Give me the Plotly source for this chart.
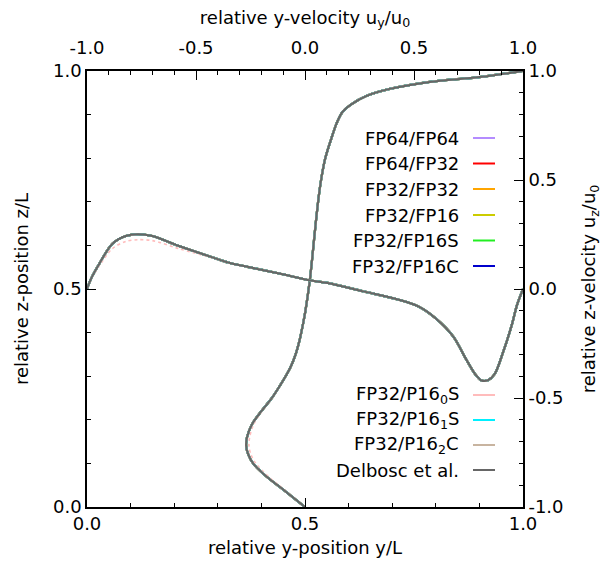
import plotly.graph_objects as go

# ---------------- data ----------------
# vertical centre-line profile: relative y-velocity u_y/u0 as a function of z/L
z_pos = [0.0, 0.02, 0.04, 0.07, 0.10, 0.12, 0.14, 0.16, 0.19, 0.22, 0.25, 0.28,
         0.30, 0.32, 0.35, 0.38, 0.42, 0.45, 0.52, 0.57, 0.65, 0.72, 0.76, 0.80,
         0.85, 0.88, 0.906, 0.924, 0.943, 0.959, 0.975, 0.986, 1.0]
u_y = [0.0, -0.05, -0.10, -0.177, -0.238, -0.26, -0.27, -0.266, -0.243, -0.20,
       -0.152, -0.113, -0.089, -0.067, -0.043, -0.026, -0.009, 0.002, 0.022,
       0.033, 0.049, 0.065, 0.077, 0.093, 0.124, 0.145, 0.172, 0.214, 0.283,
       0.389, 0.572, 0.80, 1.0]
u_y_p160s = [0.0, -0.048, -0.095, -0.168, -0.226, -0.248, -0.257, -0.254, -0.235,
             -0.196, -0.15, -0.112, -0.089, -0.067, -0.043, -0.026, -0.009, 0.002,
             0.022, 0.033, 0.049, 0.065, 0.077, 0.093, 0.124, 0.145, 0.172, 0.214,
             0.283, 0.389, 0.572, 0.80, 1.0]

# horizontal centre-line profile: relative z-velocity u_z/u0 as a function of y/L
y_pos = [0.0, 0.01, 0.028, 0.058, 0.089, 0.116, 0.15, 0.211, 0.288, 0.33, 0.365,
         0.441, 0.513, 0.552, 0.634, 0.713, 0.76, 0.80, 0.84, 0.87, 0.89, 0.905,
         0.92, 0.935, 0.954, 0.975, 0.986, 1.0]
u_z = [0.0, 0.05, 0.115, 0.207, 0.243, 0.251, 0.243, 0.197, 0.145, 0.118, 0.103,
       0.071, 0.039, 0.028, -0.011, -0.048, -0.08, -0.135, -0.218, -0.324, -0.39,
       -0.42, -0.418, -0.39, -0.292, -0.16, -0.075, 0.0]
u_z_p160s = [0.0, 0.045, 0.105, 0.185, 0.218, 0.226, 0.222, 0.185, 0.142, 0.116,
             0.102, 0.071, 0.039, 0.028, -0.011, -0.048, -0.08, -0.135, -0.218,
             -0.324, -0.39, -0.42, -0.418, -0.39, -0.292, -0.16, -0.075, 0.0]

series_names = ["FP64/FP64", "FP64/FP32", "FP32/FP32", "FP32/FP16", "FP32/FP16S",
                "FP32/FP16C", "FP32/P16<sub>0</sub>S", "FP32/P16<sub>1</sub>S",
                "FP32/P16<sub>2</sub>C", "Delbosc et al."]
series_colors = ["#b48cff", "#ff0000", "#ffa500", "#cccc00", "#22ee22",
                 "#0000cc", "#ffbcbc", "#00f0ff", "#c8b4a0", "#666666"]

pos_ticks = [0.0, 0.5, 1.0]
pos_ticktext = ["0.0", "0.5", "1.0"]
vel_ticks = [-1.0, -0.5, 0.0, 0.5, 1.0]
vel_ticktext = ["-1.0", "-0.5", "0.0", "0.5", "1.0"]

# ---------------- figure ----------------
FONT = "DejaVu Sans"
fig = go.Figure()

# axes: x (top) = u_y, y (left) = z/L ; x2 (bottom) = y/L, y2 (right) = u_z
for name, col in zip(series_names, series_colors):
    is_p0 = name.startswith("FP32/P16<sub>0")
    uy = u_y_p160s if is_p0 else u_y
    uz = u_z_p160s if is_p0 else u_z
    dash = "dot" if is_p0 else "solid"
    width = 2.0 if name == "Delbosc et al." else (1.6 if is_p0 else 2.2)
    fig.add_trace(go.Scatter(x=uy, y=z_pos, xaxis="x", yaxis="y", mode="lines",
                             line=dict(color=col, width=width, dash=dash, shape="spline", smoothing=0.9),
                             name=name, showlegend=False))
    fig.add_trace(go.Scatter(x=y_pos, y=uz, xaxis="x2", yaxis="y2", mode="lines",
                             line=dict(color=col, width=width, dash=dash, shape="spline", smoothing=0.9),
                             name=name, showlegend=False))

axis_common = dict(showgrid=False, zeroline=False, showline=True, linecolor="black",
                   linewidth=1.6, ticks="inside", ticklen=9, tickwidth=1.4,
                   tickcolor="black", tickfont=dict(family=FONT, size=18, color="black"))
minor_common = dict(dtick=0.1, ticks="inside", ticklen=4.5, tickwidth=1.3, tickcolor="black")

fig.update_layout(
    width=608, height=569,
    margin=dict(l=87, r=85, t=71, b=62, pad=0),
    plot_bgcolor="white", paper_bgcolor="white",
    font=dict(family=FONT, size=18, color="black"),
    xaxis=dict(range=[-1, 1], tickvals=vel_ticks, ticktext=vel_ticktext, side="top",
               minor=dict(tick0=-1, **minor_common), ticklabelstandoff=8,
               title=dict(text="relative y-velocity u<sub>y</sub>/u<sub>0</sub>", font=dict(family=FONT, size=18), standoff=8),
               **axis_common),
    yaxis=dict(range=[0, 1], tickvals=pos_ticks, ticktext=pos_ticktext, side="left",
               minor=dict(tick0=0, **minor_common),
               title=dict(text="relative z-position z/L", font=dict(family=FONT, size=18), standoff=20),
               **axis_common),
    xaxis2=dict(range=[0, 1], tickvals=pos_ticks, ticktext=pos_ticktext, side="bottom",
                overlaying="x", anchor="y2",
                minor=dict(tick0=0, **minor_common),
                title=dict(text="relative y-position y/L", font=dict(family=FONT, size=18), standoff=8),
                **axis_common),
    yaxis2=dict(range=[-1, 1], tickvals=vel_ticks, ticktext=vel_ticktext, side="right",
                overlaying="y", anchor="x2",
                minor=dict(tick0=-1, **minor_common),
                title=dict(text="relative z-velocity u<sub>z</sub>/u<sub>0</sub>", font=dict(family=FONT, size=18), standoff=20),
                **axis_common),
)

# ---------------- gnuplot-style legends (text right-aligned, sample on the right) ----------------
PX0, PX1, PY0, PY1 = 87, 523, 71, 507
def px(xp):
    return (xp - PX0) / (PX1 - PX0)
def py(yp):
    return (PY1 - yp) / (PY1 - PY0)

legend_rows_px = [138, 163.5, 189, 215, 240.5, 266, 395, 420, 445, 470]
for name, col, rowy in zip(series_names, series_colors, legend_rows_px):
    fig.add_annotation(x=px(461), y=py(rowy), xref="paper", yref="paper",
                       text=name, showarrow=False, xanchor="right", yanchor="middle",
                       font=dict(family=FONT, size=18, color="black"))
    fig.add_shape(type="line", xref="paper", yref="paper",
                  x0=px(473), x1=px(495), y0=py(rowy), y1=py(rowy),
                  line=dict(color=col, width=2))

fig.write_html("out.html")
